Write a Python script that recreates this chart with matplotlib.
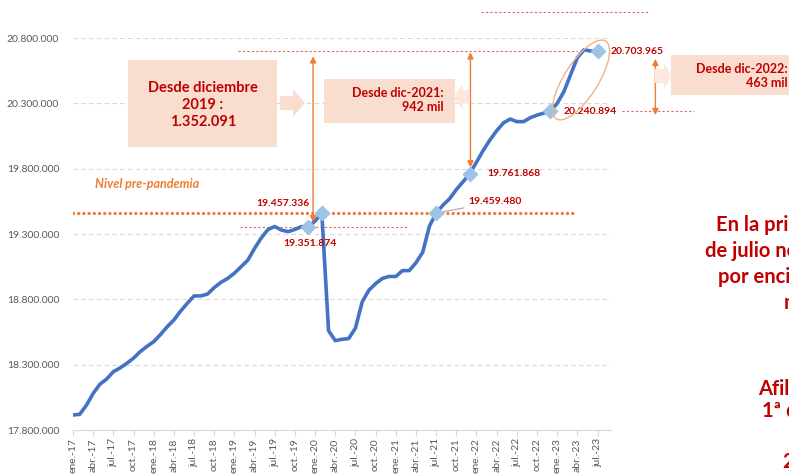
import numpy as np
import matplotlib.pyplot as plt
from matplotlib.patches import Rectangle, Polygon, Ellipse
from matplotlib.transforms import IdentityTransform

plt.rcParams['font.family'] = ['Lato', 'DejaVu Sans']

# afiliados medios desestacionalizados, ene-17 .. jul-23
afiliados = [
    17915000, 17920000, 17990000, 18080000, 18150000, 18190000, 18246000, 18275000,
    18310000, 18350000, 18400000, 18440000, 18476000, 18530000, 18590000, 18642000,
    18710000, 18770000, 18826000, 18826000, 18840000, 18890000, 18930000, 18960000,
    19000000, 19050000, 19100000, 19190000, 19270000, 19335000, 19357000, 19330000,
    19318000, 19335000, 19357000, 19351874, 19400000, 19457336, 18560000, 18484000,
    18494000, 18500000, 18580000, 18780000, 18870000, 18920000, 18960000, 18975000,
    18975000, 19020000, 19020000, 19080000, 19160000, 19360000, 19459480, 19520000,
    19570000, 19640000, 19700000, 19761868, 19850000, 19940000, 20020000, 20090000,
    20150000, 20180000, 20160000, 20160000, 20190000, 20210000, 20225000, 20240894,
    20300000, 20390000, 20520000, 20650000, 20710000, 20700000, 20703965,
]
etiquetas_x = ['ene.-17', 'abr.-17', 'jul.-17', 'oct.-17', 'ene.-18', 'abr.-18', 'jul.-18',
               'oct.-18', 'ene.-19', 'abr.-19', 'jul.-19', 'oct.-19', 'ene.-20', 'abr.-20',
               'jul.-20', 'oct.-20', 'ene.-21', 'abr.-21', 'jul.-21', 'oct.-21', 'ene.-22',
               'abr.-22', 'jul.-22', 'oct.-22', 'ene.-23', 'abr.-23', 'jul.-23']
yticks = [17800000, 18300000, 18800000, 19300000, 19800000, 20300000, 20800000]

# hitos marcados: dic-19, feb-20, jul-21, dic-21, dic-22, jul-23
hitos_idx = [35, 37, 54, 59, 71, 78]
hitos_val = [19351874, 19457336, 19459480, 19761868, 20240894, 20703965]
nivel_prepandemia = 19457336

ROJO = '#C00000'
NARANJA = '#ED7D31'
AZUL = '#4472C4'
GRIS = '#595959'
SALMON = '#F9DECF'
W, H = 789, 475


def fx(x):
    return x / W


def fy(y):
    return 1 - y / H


def fmt(v):
    return f"{v:,.0f}".replace(',', '.')


fig = plt.figure(figsize=(W / 100, H / 100), dpi=100)
ax = fig.add_axes([fx(73), fy(430), (611 - 73) / W, (430 - 38) / H])

x = np.arange(len(afiliados))
ax.plot(x, afiliados, color=AZUL, lw=2.6, solid_capstyle='round', zorder=3)
ax.scatter(hitos_idx, hitos_val, marker='D', s=52, color='#9DC3E6', zorder=4)

ax.set_xlim(0, 80)
ax.set_ylim(17800000, 20800000)
ax.set_yticks(yticks)
ax.set_yticklabels([fmt(v) for v in yticks], color=GRIS, fontsize=7.5)
ax.set_xticks(np.arange(0, 79, 3))
ax.set_xticklabels(etiquetas_x, rotation=90, color=GRIS, fontsize=7.5)
ax.tick_params(axis='y', length=0, pad=10)
ax.tick_params(axis='x', length=4, color='#D9D9D9', pad=2)
ax.grid(axis='y', color='#D9D9D9', ls=(0, (4, 3)), lw=0.8)
for s in ['top', 'right', 'left']:
    ax.spines[s].set_visible(False)
ax.spines['bottom'].set_color('#D9D9D9')
ax.set_axisbelow(True)

# nivel pre-pandemia
ax.plot([0, 75], [nivel_prepandemia] * 2, color=NARANJA, lw=2.4,
        ls=(0, (0.01, 1.55)), dash_capstyle='round', zorder=2)
fig.text(fx(95), fy(184), 'Nivel pre-pandemia', color=NARANJA, fontsize=9,
         style='italic', weight='bold', va='center')

# lineas de referencia punteadas
ref = dict(color='#E06666', lw=0.8, ls=(0, (2, 2)), clip_on=False, zorder=2)
ax.plot([24.5, 75], [hitos_val[5]] * 2, **ref)
ax.plot([24.8, 49.6], [hitos_val[0]] * 2, **ref)
ax.plot([81.6, 92.3], [hitos_val[4]] * 2, **ref)
ax.plot([60.6, 85.6], [21000000] * 2, **ref)

# flechas dobles
flecha = dict(arrowstyle='<|-|>', color=NARANJA, lw=1, mutation_scale=9,
              shrinkA=0, shrinkB=0)
ax.annotate('', xy=(35.7, 20660000), xytext=(35.7, 19390000),
            arrowprops=flecha, annotation_clip=False)
ax.annotate('', xy=(59.1, 20690000), xytext=(59.1, 19810000),
            arrowprops=flecha, annotation_clip=False)
ax.annotate('', xy=(86.6, 20640000), xytext=(86.6, 20210000),
            arrowprops=flecha, annotation_clip=False)

# etiquetas de datos
etq = dict(color=ROJO, fontsize=7.5, weight='bold', va='center',
           textcoords='figure pixels', annotation_clip=False)
ax.annotate(fmt(hitos_val[0]), (hitos_idx[0], hitos_val[0]), xytext=(310, H - 244), ha='center', **etq)
ax.annotate(fmt(hitos_val[1]), (hitos_idx[1], hitos_val[1]), xytext=(310, H - 204), ha='right', **etq)
ax.annotate(fmt(hitos_val[2]), (hitos_idx[2], hitos_val[2]), xytext=(468, H - 202), ha='left',
            arrowprops=dict(arrowstyle='-', color='#A6A6A6', lw=0.8, shrinkA=1, shrinkB=4), **etq)
ax.annotate(fmt(hitos_val[3]), (hitos_idx[3], hitos_val[3]), xytext=(487, H - 174), ha='left', **etq)
ax.annotate(fmt(hitos_val[4]), (hitos_idx[4], hitos_val[4]), xytext=(564, H - 111), ha='left', **etq)
ax.annotate(fmt(hitos_val[5]), (hitos_idx[5], hitos_val[5]), xytext=(611, H - 51), ha='left', **etq)

# elipse sobre el ultimo tramo
fig.add_artist(Ellipse((581, H - 80), 92, 34, angle=57.6, fill=False,
                       edgecolor='#F4B183', lw=1, transform=IdentityTransform()))


# cajas de texto
def caja(x0, y0, x1, y1, color=SALMON):
    fig.add_artist(Rectangle((fx(x0), fy(y1)), fx(x1) - fx(x0), fy(y0) - fy(y1),
                             transform=fig.transFigure, color=color, lw=0, zorder=1))


def flecha_bloque(xb, xt, yc, cuerpo, cabeza, xh, color=SALMON):
    pts = [(xb, yc - cuerpo), (xh, yc - cuerpo), (xh, yc - cabeza), (xt, yc),
           (xh, yc + cabeza), (xh, yc + cuerpo), (xb, yc + cuerpo)]
    fig.add_artist(Polygon([(fx(a), fy(b)) for a, b in pts], closed=True,
                           transform=fig.transFigure, color=color, lw=0, zorder=1))


caja(128, 60, 277, 147)
fig.text(fx(203), fy(105), 'Desde diciembre\n2019 :\n1.352.091', color=ROJO,
         fontsize=10.5, weight='bold', ha='center', va='center', linespacing=1.3)
flecha_bloque(280, 305, 103, 7, 14, 293)

caja(324, 79, 455, 123)
fig.text(fx(444), fy(100), 'Desde dic-2021:\n942 mil', color=ROJO,
         fontsize=9, weight='bold', ha='right', va='center', linespacing=1.25)
flecha_bloque(470, 453, 97, 7, 13, 463, color='#FCE8DC')

caja(671, 55, 800, 95)
fig.text(fx(788), fy(76), 'Desde dic-2022:\n463 mil', color=ROJO,
         fontsize=9, weight='bold', ha='right', va='center', linespacing=1.25)
flecha_bloque(655, 672, 76, 7, 13, 664, color='#FCE8DC')

# texto lateral (recortado por el borde, como en el original)
lado = dict(color=ROJO, fontsize=14.5, weight='bold', va='center', ha='left')
fig.text(fx(716), fy(225), 'En la primera', **lado)
fig.text(fx(705), fy(251), 'de julio nos', **lado)
fig.text(fx(718), fy(277), 'por encima', **lado)
fig.text(fx(784), fy(303), 'mil', **lado)
fig.text(fx(758), fy(389), 'Afiliados', **lado)
fig.text(fx(762), fy(411), '1ª quincena', **lado)
fig.text(fx(782), fy(462), '2023', **lado)

plt.savefig('out.png', dpi=100)
